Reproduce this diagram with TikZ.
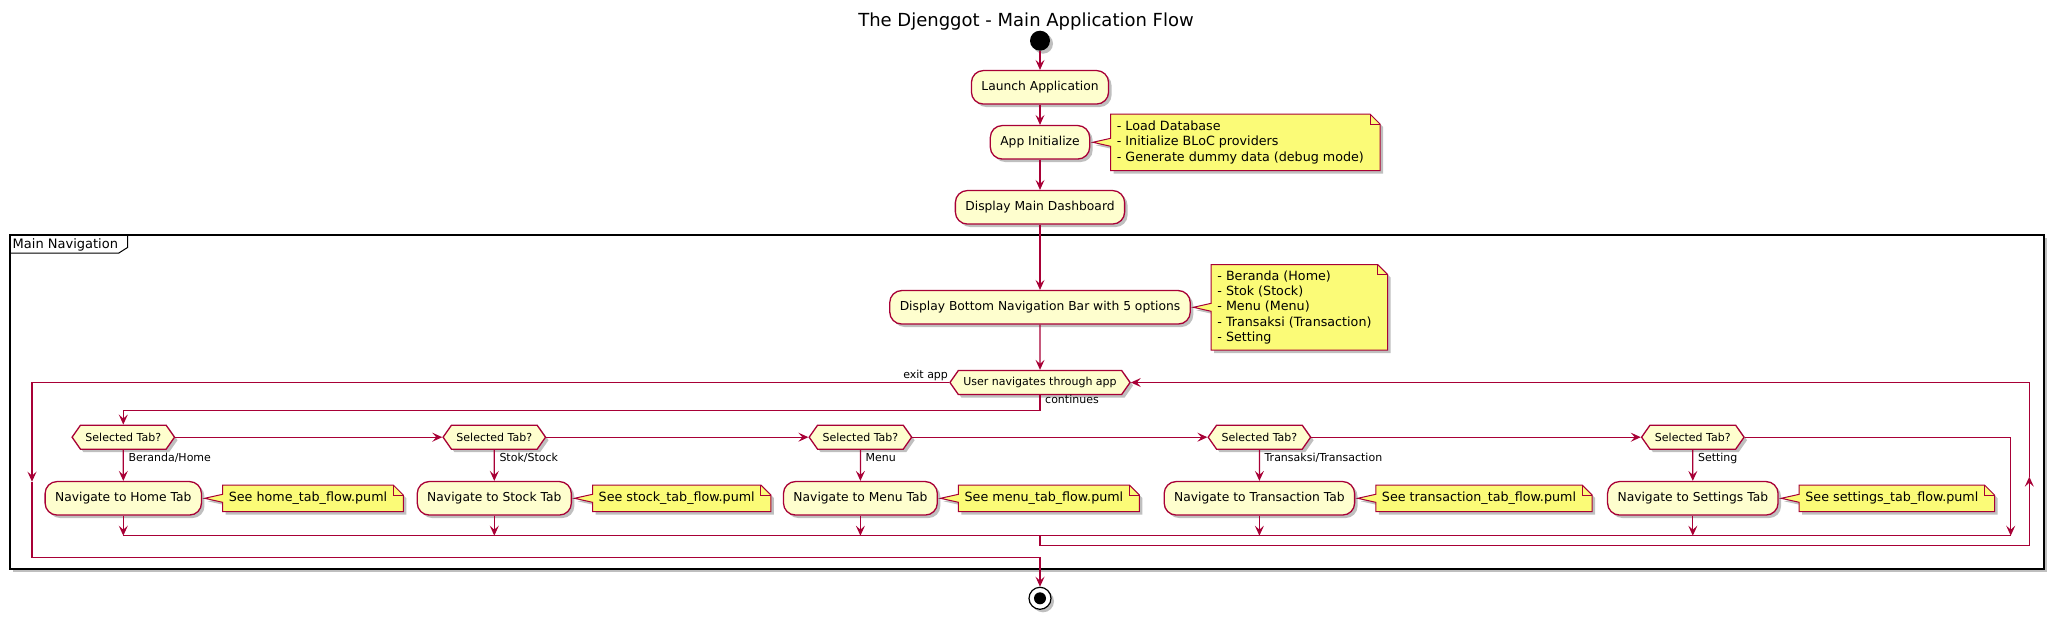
\documentclass[tikz,border=0pt]{standalone}
\usepackage{fontspec}
\setmainfont{DejaVu Sans}
\usetikzlibrary{arrows.meta,positioning,shapes.symbols,shadows,backgrounds}

\definecolor{umlred}{HTML}{A80036}
\definecolor{umlfill}{HTML}{FEFECE}
\definecolor{notefill}{HTML}{FBFB77}

\tikzset{
  uml shadow/.style={drop shadow={shadow xshift=3pt,shadow yshift=-3pt,opacity=0.25,fill=black}},
  action/.style={rectangle,rounded corners=12pt,draw=umlred,fill=umlfill,line width=1.3pt,
    minimum height=33.5pt,inner xsep=10pt,font=\fontsize{12.3}{14}\selectfont,uml shadow},
  choice/.style={signal,signal to=west and east,signal pointer angle=110,draw=umlred,fill=umlfill,
    line width=1.3pt,minimum height=24pt,inner xsep=5pt,inner ysep=0pt,
    font=\fontsize{11}{13}\selectfont,uml shadow},
  notetext/.style={align=left,inner xsep=6pt,inner ysep=0pt,font=\fontsize{12.7}{15.2}\selectfont},
  noteshape/.style={draw=umlred,fill=notefill,line width=1pt,uml shadow},
  flow/.style={draw=umlred,line width=1.2pt,-{Stealth[length=10pt,width=9pt,inset=4pt]}},
  link/.style={draw=umlred,line width=1.2pt},
  branch/.style={font=\fontsize{11}{13}\selectfont,inner sep=0pt},
}

\begin{document}
\begin{tikzpicture}[x=1pt,y=-1pt]
\useasboundingbox (0,0) rectangle (2054,621);

% title
\node[anchor=base,font=\fontsize{18}{22}\selectfont] (title) at (1026,26.7) {The Djenggot - Main Application Flow};

% start and main sequence
\node[circle,fill=black,minimum size=20pt,inner sep=0pt,uml shadow] (start) at (1040,40.7) {};
\node[action] (launch) at (1040,87.3) {Launch Application};
\node[action] (init) at (1040,142.3) {App Initialize};
\node[notetext,minimum height=56pt,right=20.3pt of init] (noteInit) {- Load Database\\- Initialize BLoC providers\\- Generate dummy data (debug mode)};
\node[action] (dash) at (1040,207.3) {Display Main Dashboard};
\node[anchor=west,font=\fontsize{13}{15}\selectfont,inner sep=0pt] (groupLabel) at (12.5,245) {Main Navigation};
\node[action] (navbar) at (1040,307.3) {Display Bottom Navigation Bar with 5 options};
\node[notetext,minimum height=85pt,right=20.3pt of navbar] (noteTabs) {- Beranda (Home)\\- Stok (Stock)\\- Menu (Menu)\\- Transaksi (Transaction)\\- Setting};
\node[choice] (loop) at (1040,382.5) {User navigates through app};

% tab choices
\node[choice] (tabHome) at (123.3,437.2) {Selected Tab?};
\node[choice] (tabStock) at (494.3,437.2) {Selected Tab?};
\node[choice] (tabMenu) at (860.4,437.2) {Selected Tab?};
\node[choice] (tabTrans) at (1259.4,437.2) {Selected Tab?};
\node[choice] (tabSet) at (1692.8,437.2) {Selected Tab?};

% tab actions
\node[action] (navHome) at (123.3,498.3) {Navigate to Home Tab};
\node[action] (navStock) at (494.3,498.3) {Navigate to Stock Tab};
\node[action] (navMenu) at (860.4,498.3) {Navigate to Menu Tab};
\node[action] (navTrans) at (1259.4,498.3) {Navigate to Transaction Tab};
\node[action] (navSet) at (1692.8,498.3) {Navigate to Settings Tab};

% notes
\node[notetext,minimum height=26pt,right=20.5pt of navHome] (noteHome) {See home\_tab\_flow.puml};
\node[notetext,minimum height=26pt,right=20.5pt of navStock] (noteStock) {See stock\_tab\_flow.puml};
\node[notetext,minimum height=26pt,right=20.5pt of navMenu] (noteMenu) {See menu\_tab\_flow.puml};
\node[notetext,minimum height=26pt,right=20.5pt of navTrans] (noteTrans) {See transaction\_tab\_flow.puml};
\node[notetext,minimum height=26pt,right=20.5pt of navSet] (noteSet) {See settings\_tab\_flow.puml};

% branch labels
\node[branch,anchor=base east] (lblExit) at ([xshift=-1pt,yshift=4pt]loop.west) {exit app};
\node[branch,anchor=base west] (lblCont) at ([xshift=5pt,yshift=-8.7pt]loop.south) {continues};
\node[branch,anchor=base west] (lblHome) at ([xshift=5pt,yshift=-11.2pt]tabHome.south) {Beranda/Home};
\node[branch,anchor=base west] (lblStock) at ([xshift=5pt,yshift=-11.2pt]tabStock.south) {Stok/Stock};
\node[branch,anchor=base west] (lblMenu) at ([xshift=5pt,yshift=-11.2pt]tabMenu.south) {Menu};
\node[branch,anchor=base west] (lblTrans) at ([xshift=5pt,yshift=-11.2pt]tabTrans.south) {Transaksi/Transaction};
\node[branch,anchor=base west] (lblSet) at ([xshift=5pt,yshift=-11.2pt]tabSet.south) {Setting};

% stop
\node[circle,draw=black,fill=white,line width=1.2pt,minimum size=22pt,inner sep=0pt,uml shadow] (stop) at (1040,598.3) {};
\node[circle,fill=black,minimum size=12pt,inner sep=0pt] (stopDot) at (stop) {};

% bend points
\coordinate (contTurn) at (1040,410.3);
\coordinate (exitMid) at (32,481.7);
\coordinate (exitTurn) at (1040,557.3);
\coordinate (mergeL) at (123.3,535.7);
\coordinate (mergeR) at (2010.7,535.7);
\coordinate (mergeMid) at (1040,535.7);
\coordinate (repTurn) at (1040,545.7);
\coordinate (repMid) at (2029.3,476.7);

% connectors
\draw[flow] (start) -- (launch);
\draw[flow] (launch) -- (init);
\draw[flow] (init) -- (dash);
\draw[flow] (dash) -- (navbar);
\draw[flow] (navbar) -- (loop);
\draw[flow] (loop.south) -- (contTurn) -| (tabHome.north);
\draw[flow] (tabHome.east) -- (tabStock.west);
\draw[flow] (tabStock.east) -- (tabMenu.west);
\draw[flow] (tabMenu.east) -- (tabTrans.west);
\draw[flow] (tabTrans.east) -- (tabSet.west);
\draw[flow] (tabSet.east) -| (mergeR);
\draw[flow] (tabHome) -- (navHome);
\draw[flow] (tabStock) -- (navStock);
\draw[flow] (tabMenu) -- (navMenu);
\draw[flow] (tabTrans) -- (navTrans);
\draw[flow] (tabSet) -- (navSet);
\draw[flow] (navHome) -- (navHome |- mergeL);
\draw[flow] (navStock) -- (navStock |- mergeL);
\draw[flow] (navMenu) -- (navMenu |- mergeL);
\draw[flow] (navTrans) -- (navTrans |- mergeL);
\draw[flow] (navSet) -- (navSet |- mergeL);
\draw[link] (mergeL) -- (mergeR);
\draw[flow] (mergeMid) -- (repTurn) -| (repMid);
\draw[flow] (repMid) |- (loop.east);
\draw[flow] (loop.west) -| (exitMid);
\draw[flow] (exitMid) |- (exitTurn) -- (stop);

% group frame and note shapes behind
\begin{scope}[on background layer]
  \node[draw=black,line width=1.8pt,fill=white,minimum width=2034pt,minimum height=334pt,inner sep=0pt,uml shadow] (mainNav) at (1027,402.3) {};
  \draw[line width=1pt] ([yshift=-18.7pt]mainNav.north west) -- ++(109.6,0) -- ++(9,-5.7) -- ++(0,-13);
  \foreach \nt/\bx in {noteInit/init,noteTabs/navbar,noteHome/navHome,noteStock/navStock,noteMenu/navMenu,noteTrans/navTrans,noteSet/navSet}{
    \filldraw[noteshape] (\nt.south west) -- ([yshift=-4pt]\nt.west) -- ([xshift=2.5pt]\bx.east) -- ([yshift=4pt]\nt.west) -- (\nt.north west) -- (\nt.north east) -- ([xshift=10pt,yshift=-10pt]\nt.north east) -- ([xshift=10pt]\nt.south east) -- cycle;
    \draw[umlred,line width=1pt] (\nt.north east) -- ([yshift=-10pt]\nt.north east) -- ([xshift=10pt,yshift=-10pt]\nt.north east);
  }
\end{scope}
\end{tikzpicture}
\end{document}
